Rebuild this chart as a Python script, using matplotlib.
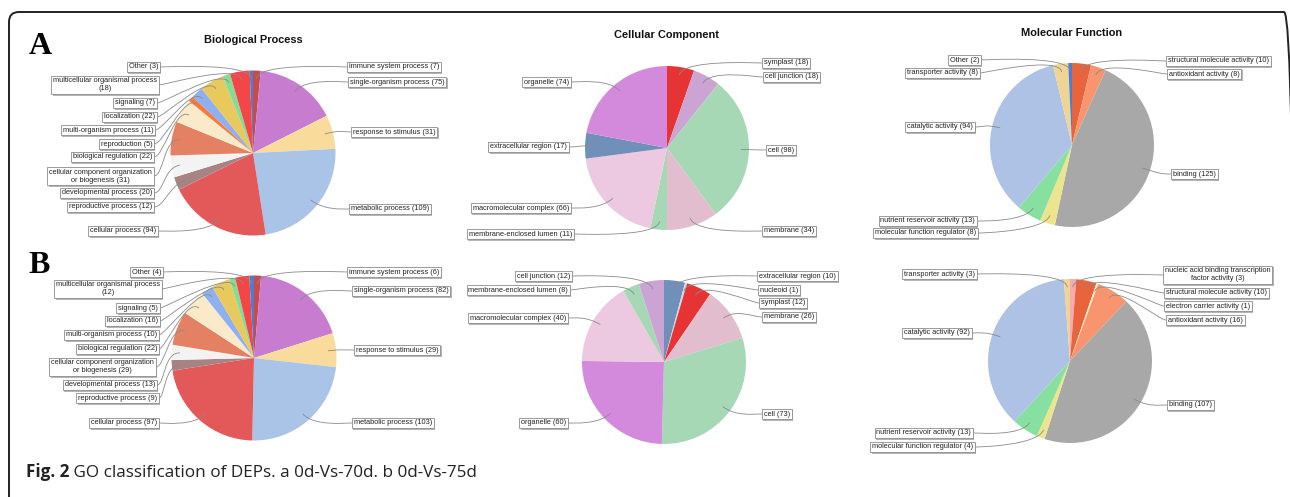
import matplotlib
matplotlib.use("Agg")
import matplotlib.pyplot as plt
import matplotlib.patheffects as pe
from matplotlib.path import Path
from matplotlib.patches import PathPatch, FancyBboxPatch
import numpy as np

# GO terms, clockwise from 12 o'clock (A = 0d-Vs-70d, B = 0d-Vs-75d)
bp_terms_a = ["immune system process", "single-organism process", "response to stimulus",
              "metabolic process", "cellular process", "reproductive process",
              "developmental process", "cellular component organization\nor biogenesis",
              "biological regulation", "reproduction", "multi-organism process",
              "localization", "signaling", "multicellular organismal process", "Other"]
bp_values_a = [7, 75, 31, 109, 94, 12, 20, 31, 22, 5, 11, 22, 7, 18, 3]

bp_terms_b = ["immune system process", "single-organism process", "response to stimulus",
              "metabolic process", "cellular process", "reproductive process",
              "developmental process", "cellular component organization\nor biogenesis",
              "biological regulation", "multi-organism process",
              "localization", "signaling", "multicellular organismal process", "Other"]
bp_values_b = [6, 82, 29, 103, 97, 9, 13, 29, 22, 10, 16, 5, 12, 4]

cc_terms_a = ["symplast", "cell junction", "cell", "membrane", "membrane-enclosed lumen",
              "macromolecular complex", "extracellular region", "organelle"]
cc_values_a = [18, 18, 98, 34, 11, 66, 17, 74]

cc_terms_b = ["extracellular region", "nucleoid", "symplast", "membrane", "cell", "organelle",
              "macromolecular complex", "membrane-enclosed lumen", "cell junction"]
cc_values_b = [10, 1, 12, 26, 73, 60, 40, 8, 12]

mf_terms_a = ["structural molecule activity", "antioxidant activity", "binding",
              "molecular function regulator", "nutrient reservoir activity",
              "catalytic activity", "transporter activity", "Other"]
mf_values_a = [10, 8, 125, 8, 13, 94, 8, 2]

mf_terms_b = ["nucleic acid binding transcription\nfactor activity", "structural molecule activity",
              "electron carrier activity", "antioxidant activity", "binding",
              "molecular function regulator", "nutrient reservoir activity",
              "catalytic activity", "transporter activity"]
mf_values_b = [3, 10, 1, 16, 107, 4, 13, 92, 3]

titles = ["Biological Process", "Cellular Component", "Molecular Function"]

# term colours (style)
COLORS = {
    "immune system process": "#c94a4a", "single-organism process": "#c77ccf",
    "response to stimulus": "#f9dc9b", "metabolic process": "#aac4e8",
    "cellular process": "#e35858", "reproductive process": "#a78383",
    "developmental process": "#f3f3f3",
    "cellular component organization\nor biogenesis": "#e58163",
    "biological regulation": "#fbeaca", "reproduction": "#fa7a3c",
    "multi-organism process": "#8fb0f0", "localization": "#e8c95e",
    "signaling": "#85dc95", "multicellular organismal process": "#f44646",
    "Other": "#4c7ed0",
    "symplast": "#e63434", "cell junction": "#cca4d4", "cell": "#a6d8b6",
    "membrane": "#e2bdcd", "membrane-enclosed lumen": "#a6d8b6",
    "macromolecular complex": "#ecc9e1", "extracellular region": "#7190b9",
    "organelle": "#d48adc", "nucleoid": "#cfdcea",
    "structural molecule activity": "#e8643c", "antioxidant activity": "#f8956e",
    "binding": "#a8a8a8", "molecular function regulator": "#ece58e",
    "nutrient reservoir activity": "#88e0a0", "catalytic activity": "#adc2e4",
    "transporter activity": "#f0d494",
    "nucleic acid binding transcription\nfactor activity": "#f8a9b1",
    "electron carrier activity": "#f6f0c6",
}
WRAP_COUNT = {"multicellular organismal process"}

W, H = 1290, 497

# layout in pixels: pie centre, radius, label box edge (side, x, y) per slice
pies = [
    (bp_terms_a, bp_values_a, (253, 153), 82.5,
     [("R", 347, 67), ("R", 348, 82), ("R", 351, 132), ("R", 349, 209), ("L", 158, 231),
      ("L", 154, 207), ("L", 154, 193), ("L", 154, 176), ("L", 154, 157), ("L", 154, 144),
      ("L", 155, 130), ("L", 157, 117), ("L", 157, 103), ("L", 159, 85), ("L", 160, 67)]),
    (bp_terms_b, bp_values_b, (254, 358), 82.5,
     [("R", 347, 272), ("R", 352, 291), ("R", 354, 350), ("R", 352, 423), ("L", 159, 423),
      ("L", 159, 398), ("L", 157, 385), ("L", 156, 367), ("L", 159, 349), ("L", 159, 335),
      ("L", 160, 321), ("L", 160, 308), ("L", 162, 289), ("L", 163, 272)]),
    (cc_terms_a, cc_values_a, (667, 148), 82,
     [("R", 762, 63), ("R", 763, 77), ("R", 766, 150), ("R", 762, 231), ("L", 574, 234),
      ("L", 571, 208), ("L", 569, 147), ("L", 571, 82)]),
    (cc_terms_b, cc_values_b, (664, 362), 82,
     [("R", 757, 276), ("R", 758, 290), ("R", 759, 303), ("R", 762, 317), ("R", 762, 414),
      ("L", 568, 423), ("L", 568, 318), ("L", 570, 290), ("L", 572, 276)]),
    (mf_terms_a, mf_values_a, (1072, 145), 82,
     [("R", 1166, 61), ("R", 1167, 74), ("R", 1171, 174), ("L", 978, 233), ("L", 977, 221),
      ("L", 975, 127), ("L", 980, 73), ("L", 981, 60)]),
    (mf_terms_b, mf_values_b, (1070, 361), 82,
     [("R", 1163, 275), ("R", 1164, 293), ("R", 1164, 306), ("R", 1166, 320), ("R", 1167, 405),
      ("L", 975, 447), ("L", 973, 433), ("L", 972, 333), ("L", 977, 274)]),
]

fig = plt.figure(figsize=(W / 100, H / 100), dpi=100)
ax = fig.add_axes([0, 0, 1, 1])

LABEL_FONT = dict(family="Liberation Sans", fontsize=5.3, color="#222222")
PAD = 0.25 * 5.3 * 100 / 72  # bbox pad in px

for terms, values, (cx, cy), r, boxes in pies:
    cy = H - cy
    wedges, _ = ax.pie(values, colors=[COLORS[t] for t in terms], startangle=90,
                       counterclock=False, center=(cx, cy), radius=r,
                       wedgeprops=dict(linewidth=0))
    for w in wedges:
        w.set_zorder(1)
    for term, v, w, (side, bx, by) in zip(terms, values, wedges, boxes):
        by = H - by
        mid = np.deg2rad((w.theta1 + w.theta2) / 2)
        d = np.array([np.cos(mid), np.sin(mid)])
        link = np.array([cx, cy]) + 0.9 * r * d
        elbow = np.array([cx, cy]) + 1.1 * r * d
        sgn = 1 if side == "R" else -1
        cp1 = (cx + sgn * 1.08 * r, by)
        path = Path([(bx, by), cp1, tuple(elbow), tuple(link)],
                    [Path.MOVETO, Path.CURVE4, Path.CURVE4, Path.CURVE4])
        ax.add_patch(PathPatch(path, fc="none", ec="#8a8a8a", lw=0.6, zorder=2))
        sep = "\n" if term in WRAP_COUNT else " "
        txt = f"{term}{sep}({v})"
        t = ax.text(bx + sgn * PAD, by, txt, ha="left" if side == "R" else "right",
                    va="center", multialignment="center", zorder=4,
                    bbox=dict(boxstyle="square,pad=0.25", fc="white", ec="#8c8c8c", lw=0.6),
                    **LABEL_FONT)
        t.get_bbox_patch().set_path_effects(
            [pe.withSimplePatchShadow(offset=(1.0, -1.0), shadow_rgbFace="#b5b5b5", alpha=1)])

# column titles
for title, x, yb in zip(titles, [253, 667, 1072], [43, 38, 36]):
    ax.text(x, H - yb, title, ha="center", va="baseline", family="Liberation Sans",
            fontsize=7.9, fontweight="bold", color="#111111")

# panel letters
ax.text(40, H - 54, "A", ha="center", va="baseline", family="Liberation Serif",
        fontsize=23, fontweight="bold")
ax.text(39, H - 273, "B", ha="center", va="baseline", family="Liberation Serif",
        fontsize=23, fontweight="bold")

# frame (right edge sits just outside the picture)
ax.add_patch(FancyBboxPatch((9, -30), 1285, H - 12 + 30, boxstyle="round,pad=0,rounding_size=10",
                            fc="none", ec="#222222", lw=1.4, zorder=0))

ax.set_xlim(0, W)
ax.set_ylim(0, H)
ax.set_aspect("auto")
ax.axis("off")

# caption
cap1 = fig.text(26 / W, (H - 477) / H, "Fig. 2", family="Open Sans", fontsize=12.3,
                fontweight="bold", color="#222222")
rend = fig.canvas.get_renderer()
bb = cap1.get_window_extent(rend)
fig.text(bb.x1 / W, (H - 477) / H, " GO classification of DEPs. a 0d-Vs-70d. b 0d-Vs-75d",
         family="Open Sans", fontsize=12.3, color="#222222")

fig.savefig("out.png", dpi=100)
